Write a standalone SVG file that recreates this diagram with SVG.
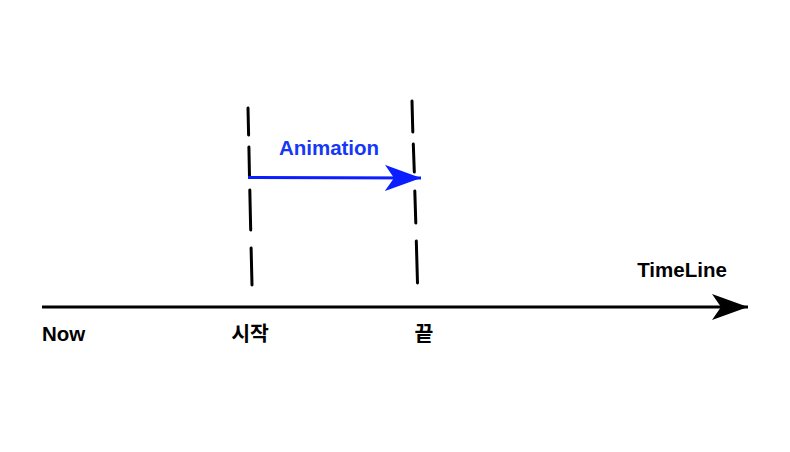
<svg xmlns="http://www.w3.org/2000/svg" width="790" height="452" viewBox="0 0 790 452">
<style>
.dash{stroke:#000;stroke-width:3;stroke-linecap:round;fill:none}
.lbl{font-family:"Liberation Sans","Noto Sans CJK KR",sans-serif;font-weight:bold;font-size:20.5px;fill:#000}
.blue{fill:#1438f5}
</style>
<defs>
<marker id="ah" viewBox="0 0 36 26" refX="36" refY="13" markerWidth="36" markerHeight="26" markerUnits="userSpaceOnUse" orient="auto">
<path d="M0,0 L36,13 L0,26 L9,13 Z" fill="#000"/>
</marker>
<marker id="ahb" viewBox="0 0 36 26" refX="36" refY="13" markerWidth="36" markerHeight="26" markerUnits="userSpaceOnUse" orient="auto">
<path d="M0,0 L36,13 L0,26 L9,13 Z" fill="#0a1eff"/>
</marker>
</defs>
<rect width="790" height="452" fill="#fff"/>
<g id="start-line">
<line class="dash" x1="248" y1="108" x2="248.6" y2="135"/>
<line class="dash" x1="248.9" y1="147" x2="249.5" y2="177"/>
<line class="dash" x1="249.8" y1="190" x2="250.7" y2="230"/>
<line class="dash" x1="251.1" y1="248" x2="252" y2="285"/>
</g>
<g id="end-line">
<line class="dash" x1="412" y1="101" x2="412.8" y2="132"/>
<line class="dash" x1="413.3" y1="144" x2="414.3" y2="172"/>
<line class="dash" x1="414.8" y1="191" x2="415.8" y2="223"/>
<line class="dash" x1="416.3" y1="241" x2="417.5" y2="283"/>
</g>
<g id="connectors">
<line x1="42" y1="307" x2="748" y2="307" stroke="#000" stroke-width="3" marker-end="url(#ah)"/>
<line x1="248" y1="177.5" x2="421" y2="178" stroke="#0a1eff" stroke-width="3" marker-end="url(#ahb)"/>
</g>
<g id="animation-label"><text class="lbl blue" x="329" y="155" text-anchor="middle">Animation</text></g>
<g id="timeline-label"><text class="lbl" x="682" y="277" text-anchor="middle">TimeLine</text></g>
<g id="now"><text class="lbl" x="42" y="341">Now</text></g>
<g id="start"><text class="lbl" x="250" y="341" text-anchor="middle">시작</text></g>
<g id="end"><text class="lbl" x="424" y="341" text-anchor="middle">끝</text></g>
</svg>
